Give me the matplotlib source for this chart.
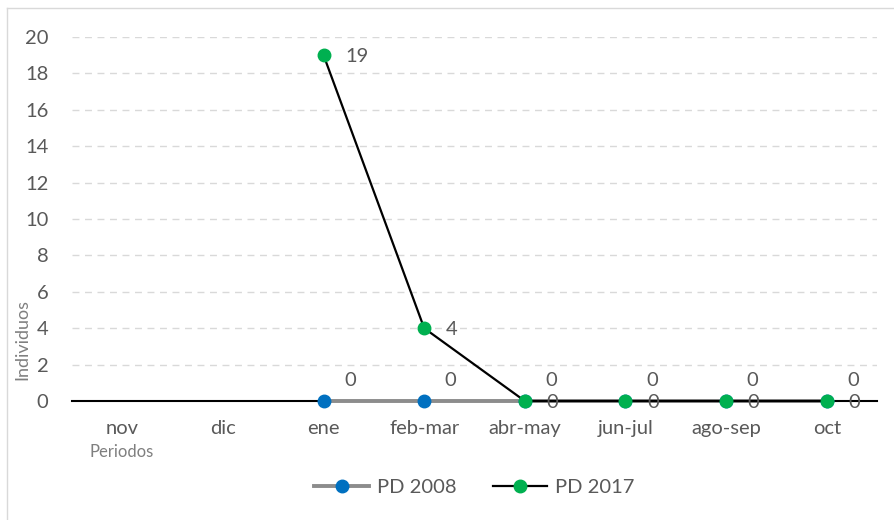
import numpy as np
import matplotlib
matplotlib.use("Agg")
import matplotlib.pyplot as plt
from matplotlib.lines import Line2D

plt.rcParams['font.family'] = ['Lato', 'DejaVu Sans']

periodos = ["nov", "dic", "ene", "feb-mar", "abr-may", "jun-jul", "ago-sep", "oct"]
pd_2008 = [None, None, 0, 0, 0, 0, 0, 0]
pd_2017 = [None, None, 19, 4, 0, 0, 0, 0]

txt = '#595959'
x = np.arange(len(periodos))
y08 = np.array([np.nan if v is None else v for v in pd_2008], dtype=float)
y17 = np.array([np.nan if v is None else v for v in pd_2017], dtype=float)

fig = plt.figure(figsize=(8.94, 5.20), dpi=100)
ax = fig.add_axes([72/894, 1-401/520, (877-72)/894, (401-37)/520])

ax.plot(x, y08, color='#8c8c8c', lw=2.8, marker='o', ms=9,
        mfc='#0070c0', mec='#0070c0', label='PD 2008', zorder=3, clip_on=False)
ax.plot(x, y17, color='black', lw=1.6, marker='o', ms=9,
        mfc='#00b050', mec='#00b050', label='PD 2017', zorder=4, clip_on=False)

for i, v in enumerate(y08):
    if not np.isnan(v):
        ax.annotate(f"{int(v)}", (x[i], v), xytext=(19, 15), textcoords='offset points',
                    ha='center', va='center', fontsize=14.5, color=txt)
for i, v in enumerate(y17):
    if not np.isnan(v):
        ax.annotate(f"{int(v)}", (x[i], v), xytext=(15.5, -1), textcoords='offset points',
                    ha='left', va='center', fontsize=14.5, color=txt, zorder=5)

ax.set_xlim(-0.5, len(periodos) - 0.5)
ax.set_ylim(0, 20)
ax.set_yticks(np.arange(0, 21, 2))
ax.set_xticks(x)
ax.set_xticklabels(periodos)
ax.tick_params(axis='both', length=0, labelsize=14.5, colors=txt)
ax.tick_params(axis='x', pad=14)
ax.tick_params(axis='y', pad=17)
ax.yaxis.grid(True, color='#d9d9d9', ls=(0, (5, 4)), lw=1)
ax.set_axisbelow(True)
for s in ['top', 'right', 'left']:
    ax.spines[s].set_visible(False)
ax.spines['bottom'].set_color('black')
ax.spines['bottom'].set_linewidth(1.5)

fig.text(22/894, 1-339/520, "Individuos", rotation=90, ha='center', va='center',
         fontsize=13, color='#7f7f7f')
fig.text(122/894, 1-452/520, "Periodos", ha='center', va='center',
         fontsize=12, color='#7f7f7f')

leg = ax.legend(loc='center', bbox_to_anchor=(0.5, (401-487)/364), ncol=2,
                frameon=False, fontsize=14.5, handlelength=2.7, columnspacing=1.8,
                handletextpad=0.4)
for t in leg.get_texts():
    t.set_color(txt)

# chart border (only left and top visible in reference)
fig.add_artist(Line2D([7/894, 7/894], [0, 1-8/520], transform=fig.transFigure,
                      color='#d9d9d9', lw=1))
fig.add_artist(Line2D([7/894, 1], [1-8/520, 1-8/520], transform=fig.transFigure,
                      color='#d9d9d9', lw=1))

fig.savefig("out.png", dpi=100)
